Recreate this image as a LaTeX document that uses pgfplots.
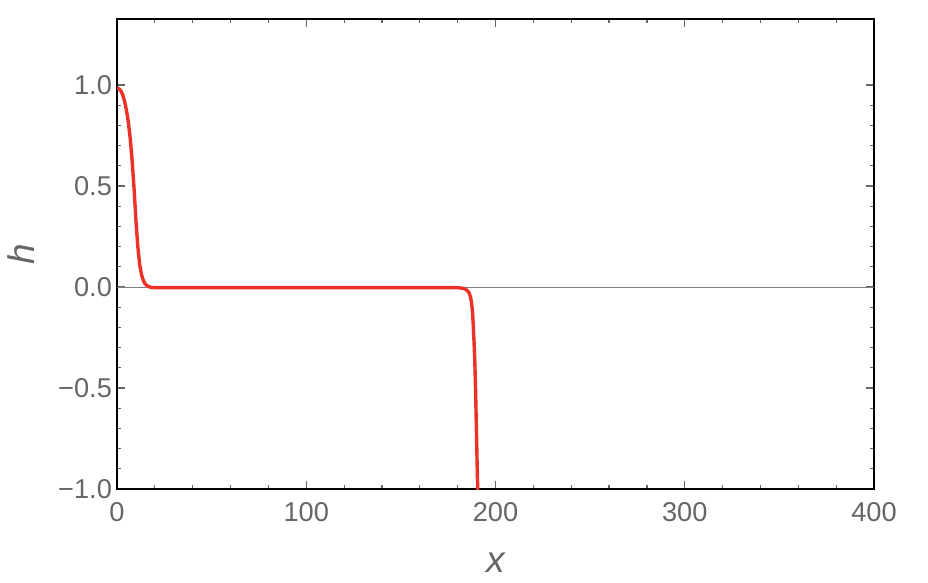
\documentclass[border=0pt]{standalone}
\usepackage{fontspec}
\setmainfont{Liberation Sans}
\usepackage{pgfplots}
\pgfplotsset{compat=1.18}
\definecolor{curve}{RGB}{236,50,38}
\definecolor{tickgray}{RGB}{102,102,102}
\begin{document}
\begin{tikzpicture}
\begin{axis}[
  scale only axis,
  width=378.5pt, height=235pt,
  xmin=0, xmax=400, ymin=-1, ymax=1.327,
  axis line style={black, line width=0.9pt},
  xtick={0,100,200,300,400},
  ytick={-1,-0.5,0,0.5,1},
  yticklabels={−1.0,−0.5,0.0,0.5,1.0},
  minor x tick num=4, minor y tick num=4,
  tick align=inside,
  major tick length=4pt, minor tick length=2pt,
  every tick/.style={tickgray, line width=0.6pt},
  tick label style={font=\fontsize{13.6}{16}\selectfont, text=tickgray},
  /pgf/number format/assume math mode=true,
  xticklabel style={yshift=-3pt},
  yticklabel style={xshift=1pt},
  xlabel={\itshape x}, ylabel={\itshape h},
  label style={font=\fontsize{18.5}{21}\selectfont, text=tickgray},
  xlabel style={at={(axis description cs:0.5,-0.1574)}, anchor=center},
  ylabel style={at={(axis description cs:-0.127,0.5)}, anchor=center},
  clip=true,
]
\addplot[gray, line width=0.5pt] coordinates {(0,0) (400,0)};
\addplot[curve, line width=1.7pt, line join=round] coordinates {
(0,0.985) (1,0.982) (2,0.972) (3,0.952) (4,0.92) (5,0.875) (6,0.815)
(7,0.735) (8,0.625) (9,0.49) (10,0.33) (11,0.2) (12,0.11) (13,0.06)
(14,0.03) (15,0.014) (16,0.006) (17,0.001) (18,-0.002) (20,-0.003)
(40,-0.003) (100,-0.003) (150,-0.003) (178,-0.003) (181,-0.004)
(183,-0.007) (184.5,-0.013) (185.5,-0.022) (186.2,-0.032) (186.8,-0.05)
(187.4,-0.08) (187.9,-0.13) (188.3,-0.2) (188.7,-0.28) (189.1,-0.38)
(189.5,-0.52) (189.9,-0.7) (190.3,-0.88) (190.6,-1.0) (191,-1.2)
};
\end{axis}
\pgfresetboundingbox
\path[use as bounding box] ([xshift=-58.5pt,yshift=-46.5pt]current axis.south west) rectangle ([xshift=27pt,yshift=9.5pt]current axis.north east);
\end{tikzpicture}
\end{document}
